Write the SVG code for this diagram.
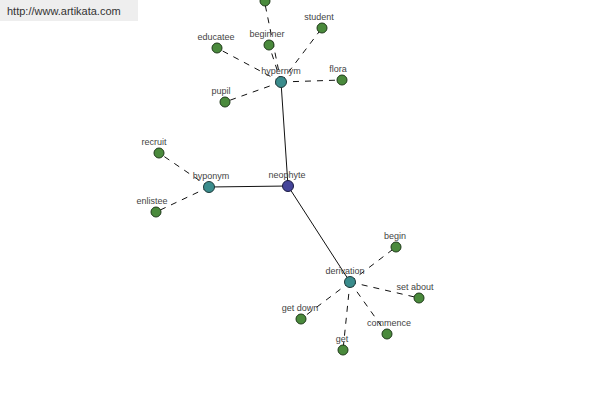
<svg xmlns="http://www.w3.org/2000/svg" width="600" height="400" viewBox="0 0 600 400">
<style>
.bg{fill:#ffffff}
.wm{fill:#eeeeee}
.wmt{font-family:"Liberation Sans",Arial,sans-serif;font-size:11px;fill:#333333}
.solid{stroke:#111111;stroke-width:1;fill:none}
.dash{stroke:#111111;stroke-width:1;stroke-dasharray:6,6;fill:none}
.leaf{fill:#4a8a3c;stroke:#1f3a1a;stroke-width:1}
.hub{fill:#3a8c8c;stroke:#1f3a3a;stroke-width:1}
.root{fill:#45459a;stroke:#1a1a40;stroke-width:1}
.lbl{font-family:"Liberation Sans",Arial,sans-serif;font-size:9px;fill:#444444;text-anchor:middle}
</style>
<rect class="bg" x="0" y="0" width="600" height="400"/>
<rect class="wm" x="0" y="0" width="138" height="21"/>
<text class="wmt" x="7" y="15">http://www.artikata.com</text>
<g id="connectors">
<line class="solid" x1="288" y1="186" x2="281" y2="82"/>
<line class="solid" x1="288" y1="186" x2="209" y2="187"/>
<line class="solid" x1="288" y1="186" x2="350" y2="282"/>
<line class="dash" x1="281" y1="82" x2="265" y2="4"/>
<line class="dash" x1="281" y1="82" x2="269" y2="45"/>
<line class="dash" x1="281" y1="82" x2="322" y2="28"/>
<line class="dash" x1="281" y1="82" x2="217" y2="48"/>
<line class="dash" x1="281" y1="82" x2="342" y2="80"/>
<line class="dash" x1="281" y1="82" x2="225" y2="102"/>
<line class="dash" x1="209" y1="187" x2="159" y2="153"/>
<line class="dash" x1="209" y1="187" x2="156" y2="212"/>
<line class="dash" x1="350" y1="282" x2="396" y2="247"/>
<line class="dash" x1="350" y1="282" x2="419" y2="298"/>
<line class="dash" x1="350" y1="282" x2="387" y2="334"/>
<line class="dash" x1="350" y1="282" x2="343" y2="350"/>
<line class="dash" x1="350" y1="282" x2="301" y2="319"/>
</g>
<g id="n-top"><circle class="leaf" cx="265" cy="1" r="5"/></g>
<g id="n-beginner"><circle class="leaf" cx="269" cy="45" r="5"/><text class="lbl" x="267" y="37">beginner</text></g>
<g id="n-student"><circle class="leaf" cx="322" cy="28" r="5"/><text class="lbl" x="319" y="20">student</text></g>
<g id="n-educatee"><circle class="leaf" cx="217" cy="48" r="5"/><text class="lbl" x="216" y="40">educatee</text></g>
<g id="n-flora"><circle class="leaf" cx="342" cy="80" r="5"/><text class="lbl" x="338" y="72">flora</text></g>
<g id="n-pupil"><circle class="leaf" cx="225" cy="102" r="5"/><text class="lbl" x="221" y="94">pupil</text></g>
<g id="n-hypernym"><circle class="hub" cx="281" cy="82" r="5.5"/><text class="lbl" x="281" y="74">hypernym</text></g>
<g id="n-recruit"><circle class="leaf" cx="159" cy="153" r="5"/><text class="lbl" x="154" y="145">recruit</text></g>
<g id="n-enlistee"><circle class="leaf" cx="156" cy="212" r="5"/><text class="lbl" x="152" y="204">enlistee</text></g>
<g id="n-hyponym"><circle class="hub" cx="209" cy="187" r="5.5"/><text class="lbl" x="211" y="179">hyponym</text></g>
<g id="n-neophyte"><circle class="root" cx="288" cy="186" r="5.5"/><text class="lbl" x="287" y="178">neophyte</text></g>
<g id="n-begin"><circle class="leaf" cx="396" cy="247" r="5"/><text class="lbl" x="395" y="239">begin</text></g>
<g id="n-setabout"><circle class="leaf" cx="419" cy="298" r="5"/><text class="lbl" x="415" y="290">set about</text></g>
<g id="n-commence"><circle class="leaf" cx="387" cy="334" r="5"/><text class="lbl" x="389" y="326">commence</text></g>
<g id="n-get"><circle class="leaf" cx="343" cy="350" r="5"/><text class="lbl" x="342" y="342">get</text></g>
<g id="n-getdown"><circle class="leaf" cx="301" cy="319" r="5"/><text class="lbl" x="300" y="311">get down</text></g>
<g id="n-derivation"><circle class="hub" cx="350" cy="282" r="5.5"/><text class="lbl" x="345" y="274">derivation</text></g>
</svg>
